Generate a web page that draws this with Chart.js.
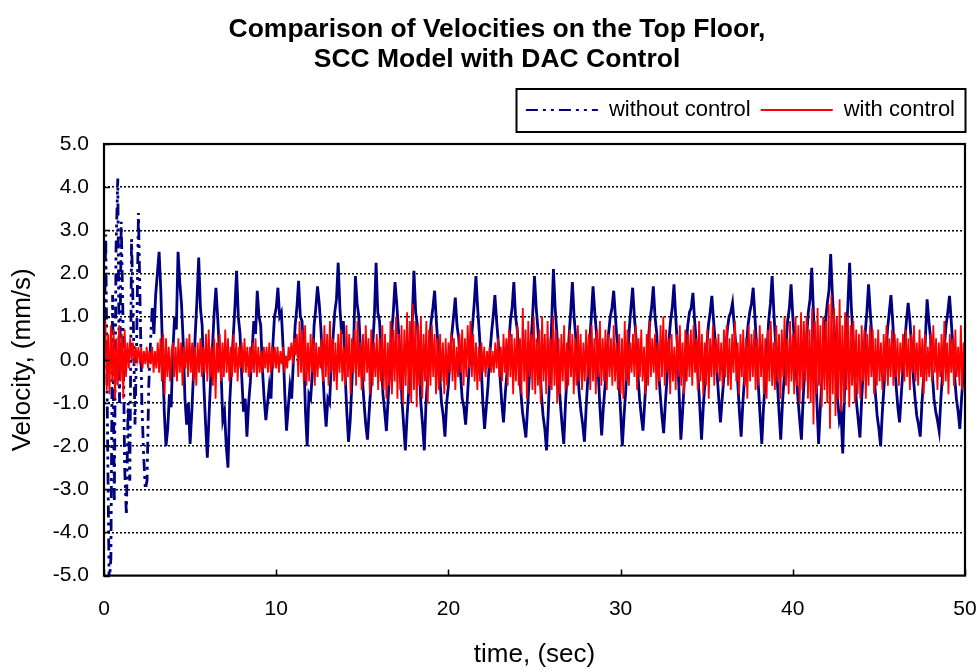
<!DOCTYPE html>
<html>
<head>
<meta charset="utf-8">
<title>Velocities on the Top Floor</title>
<script src="https://cdn.jsdelivr.net/npm/chart.js@4.4.1/dist/chart.umd.min.js"></script>
<style>
  html, body { margin: 0; padding: 0; background: #fff; }
</style>
</head>
<body>
<canvas id="velChart" width="979" height="670"></canvas>
<script>
// sample spacing (sec) of each record
const stepWithout = 0.1;
const stepWith = 0.08;

// velocity without control (mm/s), one row = 1 s
const withoutControl = [
  0.0, 2.9, -1.5, -5.2, -4.6, 1.5, -3.3, 2.6, 4.2, -1.0,
  3.2, 1.0, -2.5, -3.6, -1.0, -2.8, 2.8, 1.0, -1.5, 0.5,
  3.4, 1.2, -1.0, -2.2, -3.0, -2.8, -0.6, 0.4, 1.2, 0.6,
  1.5, 2.0, 2.5, 1.6, 0.2, -1.2, -2.0, -1.6, -0.8, -1.1,
  0.2, 1.0, 0.7, 2.5, 1.8, 1.3, 0.4, -0.9, -1.5, -1.0,
  -1.95, -1.2, -0.3, 0.6, 1.4, 2.37, 1.2, 0.8, -0.6, -1.5,
  -2.27, -1.3, -0.4, 0.3, 1.1, 1.67, 1.0, 0.2, -0.3, -1.4,
  -1.2, -2.0, -2.5, -1.0, -0.2, 0.5, 1.2, 2.06, 1.0, 0.6,
  -0.4, -1.2, -0.9, -1.78, -1.0, -0.5, 0.2, 0.9, 0.6, 1.6,
  1.0, 0.8, -0.2, -0.9, -1.4, -1.0, -0.6, -0.9, 0.3, 1.0,
  1.2, 1.67, 1.0, 1.1, 0.3, -0.8, -1.64, -1.1, -0.6, -0.9,
  0.0, 0.8, 1.2, 1.83, 1.0, 0.9, 0.1, -1.2, -2.0, -0.8,
  -0.9, -0.3, 0.8, 1.2, 1.7, 1.3, 0.7, -0.2, -1.0, -1.55,
  -0.9, -1.0, -0.1, 0.5, 1.1, 1.4, 2.25, 1.2, 0.6, 0.9,
  -0.3, -1.2, -1.9, -1.4, -0.5, 0.4, 1.94, 1.3, 1.0, 0.2,
  -0.4, -1.0, -1.5, -1.85, -1.2, -0.6, 0.3, 1.0, 2.25, 1.1,
  0.9, 0.1, -0.8, -1.2, -1.65, -0.9, -0.2, 0.6, 1.1, 1.8,
  1.3, 0.7, 0.0, -0.9, -1.5, -2.1, -1.3, -0.7, 0.2, 0.9,
  2.06, 1.1, 0.8, -0.1, -1.0, -1.5, -2.1, -1.0, -0.4, 0.4,
  0.9, 1.2, 1.6, 0.9, 0.3, -0.4, -1.0, -1.3, -1.78, -1.0,
  -0.6, 0.1, 0.6, 1.0, 1.44, 0.8, 0.5, -0.3, -0.9, -1.1,
  -1.5, -0.9, -0.2, 0.3, 0.8, 1.3, 1.94, 1.2, 0.6, -0.1,
  -1.0, -1.6, -1.1, -0.6, 0.1, 0.6, 1.0, 1.5, 0.9, 0.4,
  -0.4, -1.0, -1.45, -0.8, -0.3, 0.3, 0.9, 1.2, 1.8, 1.0,
  0.7, 0.0, -0.7, -1.2, -1.5, -1.8, -1.1, -0.4, 0.4, 1.1,
  1.94, 1.2, 0.7, 0.0, -0.8, -1.3, -1.6, -2.1, -1.2, -0.2,
  0.9, 2.1, 1.2, 0.6, -0.4, -1.0, -1.5, -1.95, -1.0, -0.3,
  0.5, 1.1, 1.8, 1.0, 0.5, -0.2, -0.8, -1.2, -1.5, -1.9,
  -1.1, -0.4, 0.4, 1.0, 1.7, 1.1, 0.6, -0.3, -1.1, -1.75,
  -1.1, -0.6, 0.1, 0.6, 1.0, 1.2, 1.6, 1.0, 0.4, -0.5,
  -1.2, -2.0, -1.3, -0.7, 0.0, 0.7, 1.2, 1.67, 1.0, 0.5,
  -0.3, -0.9, -1.3, -1.64, -1.0, -0.3, 0.4, 0.9, 1.2, 1.7,
  1.0, 0.6, -0.2, -0.8, -1.3, -1.7, -1.0, -0.4, 0.4, 0.9,
  1.2, 1.75, 1.0, 0.3, -0.8, -1.85, -1.2, -0.5, 0.2, 0.8,
  1.1, 1.2, 1.55, 0.9, 0.4, -0.4, -1.1, -1.85, -1.1, -0.5,
  0.3, 0.8, 1.1, 1.48, 0.9, 0.4, -0.3, -0.9, -1.45, -0.9,
  -0.4, 0.2, 0.7, 1.0, 1.1, 1.32, 0.8, 0.3, -0.5, -1.2,
  -1.78, -1.0, -0.4, 0.3, 0.8, 1.1, 1.3, 1.67, 1.0, 0.3,
  -0.6, -1.3, -1.95, -1.1, -0.5, 0.2, 0.9, 1.3, 1.94, 1.1,
  0.4, -0.5, -1.2, -1.85, -1.0, -0.4, 0.3, 0.9, 1.2, 1.75,
  1.0, 0.4, -0.3, -0.9, -1.4, -1.85, -0.9, -0.2, 0.5, 1.1,
  1.4, 2.13, 1.1, 0.2, -1.0, -1.95, -1.1, -0.4, 0.3, 0.9,
  1.3, 1.6, 2.45, 1.5, 0.8, -0.2, -0.9, -1.4, -1.2, -2.17,
  -0.8, 0.4, 1.3, 2.25, 1.2, 0.5, -0.4, -1.0, -1.4, -1.8,
  -0.9, -0.2, 0.6, 1.1, 1.75, 1.1, 0.5, -0.2, -0.8, -1.3,
  -1.6, -2.0, -1.2, -0.6, 0.1, 0.7, 1.1, 1.5, 0.9, 0.2,
  -0.6, -1.1, -1.45, -0.8, -0.2, 0.4, 0.9, 1.32, 0.9, 0.3,
  -0.4, -0.9, -1.3, -1.5, -1.78, -1.0, -0.4, 0.5, 1.4, 0.9,
  0.5, -0.3, -0.9, -1.2, -1.4, -1.65, -0.9, -0.3, 0.3, 0.8,
  1.1, 1.48, 0.9, 0.3, -0.4, -0.9, -1.2, -1.6, -0.9, -0.3,
  0.3
];

// velocity with control (mm/s), one row = 2 s
const withControl = [
  0.3, 0.9, -0.7, 0.6, -0.8, 0.8, -0.5, 0.7, -0.9, 0.5, -0.6, 0.8, -0.5, 0.6, -0.9, 0.7, -0.4, 0.4, -0.2, 0.5, 0.0, 0.4, -0.1, 0.3, 0.0,
  0.3, -0.1, 0.3, -0.2, 0.2, -0.1, 0.3, -0.2, 0.2, -0.1, 0.3, -0.3, 0.2, -0.2, 0.4, -0.3, 0.5, -0.5, 0.6, -0.8, 0.5, -0.4, 0.3, -0.5, 0.2,
  0.4, -0.4, 0.3, -0.5, 0.5, -0.3, 0.4, -0.6, 0.3, -0.2, 0.5, -0.4, 0.6, -0.3, 0.4, -0.5, 0.3, -0.6, 0.4, -0.3, 0.5, -0.4, 0.3, -0.3, 0.6,
  -0.5, 0.7, -0.4, 0.3, -0.6, 0.5, -0.9, 0.4, -0.3, 0.6, -0.5, 0.4, -0.4, 0.7, -0.3, 0.5, -0.5, 0.3, -0.4, 0.6, -0.3, 0.4, -0.5, 0.3, -0.2,
  0.4, -0.3, 0.5, -0.3, 0.3, -0.4, 0.3, -0.3, 0.4, -0.3, 0.5, -0.4, 0.3, -0.3, 0.2, -0.3, 0.3, -0.2, 0.3, -0.3, 0.4, -0.3, 0.3, -0.2, 0.3,
  -0.2, 0.3, -0.3, 0.2, -0.1, 0.3, -0.3, 0.1, -0.2, 0.3, 0.0, 0.4, -0.1, 0.5, 0.1, 0.6, -0.4, 0.9, -0.3, 0.7, -0.5, 0.8, -0.6, 0.4, -0.5,
  0.6, -0.3, 0.5, -0.6, 0.4, -0.4, 0.3, -0.2, 0.5, -0.5, 0.8, -0.4, 0.6, -0.6, 0.9, -0.3, 0.5, -0.5, 0.4, -0.7, 0.6, -0.3, 0.7, -0.5, 0.3,
  -0.6, 0.8, -0.4, 0.6, -0.8, 0.5, -0.3, 0.7, -0.6, 0.9, -0.4, 0.4, -0.7, 0.6, -0.5, 0.8, -0.3, 0.5, -0.8, 0.7, -0.6, 0.4, -0.4, 0.6, -0.7,
  0.5, -0.5, 0.8, -0.7, 0.6, -0.9, 0.4, -0.6, 0.9, -0.8, 0.7, -0.5, 1.0, -0.9, 0.6, -0.7, 0.8, -1.0, 0.7, -0.6, 1.1, -0.8, 0.9, -1.0, 1.3,
  -0.7, 0.9, -1.1, 0.8, -0.6, 1.0, -0.9, 0.6, -0.5, 0.9, -1.0, 0.7, -0.6, 0.8, -0.4, 0.6, -0.8, 0.5, -0.7, 0.6, -0.5, 0.4, -0.8, 0.5, -0.6,
  0.4, -0.3, 0.6, -0.5, 0.5, -0.7, 0.3, -0.4, 0.6, -0.3, 0.7, -0.6, 0.5, -0.4, 0.8, -0.2, 0.9, -0.4, 0.6, -0.5, 0.4, -0.7, 0.3, -0.5, 0.4,
  -0.3, 0.3, -0.4, 0.2, -0.2, 0.3, -0.3, 0.2, -0.3, 0.4, -0.2, 0.5, -0.4, 0.3, -0.5, 0.6, -0.3, 0.5, -0.6, 0.7, -0.4, 0.6, -0.8, 0.5, -0.5,
  0.8, -0.6, 0.5, -0.8, 1.2, -0.5, 0.7, -0.9, 0.9, -0.4, 0.6, -0.7, 1.0, -0.8, 0.5, -0.6, 0.7, -1.0, 1.0, -0.5, 0.6, -0.8, 0.9, -0.6, 0.5,
  -0.7, 1.0, -0.6, 0.7, -1.0, 0.5, -0.8, 0.6, -0.5, 0.8, -0.7, 0.4, -0.6, 0.7, -0.4, 0.6, -0.8, 0.5, -0.6, 0.8, -0.5, 0.6, -0.7, 0.4, -0.5,
  0.7, -0.4, 0.6, -0.7, 0.8, -0.5, 0.5, -0.8, 0.7, -0.4, 0.9, -0.6, 0.5, -0.5, 0.7, -0.7, 0.6, -0.4, 0.5, -0.6, 0.8, -0.5, 0.4, -0.7, 0.6,
  -0.8, 0.5, -0.9, 0.9, -0.5, 0.7, -0.6, 0.4, -0.3, 0.6, -0.4, 0.8, -0.7, 0.5, -0.4, 0.7, -0.5, 0.3, -0.8, 0.6, -0.6, 0.9, -0.4, 0.5, -0.3,
  0.6, -0.7, 0.4, -0.5, 0.8, -0.4, 1.0, -0.6, 0.7, -0.3, 0.5, -0.8, 0.6, -0.5, 0.3, -0.7, 0.6, -0.4, 0.8, -0.6, 0.4, -0.8, 0.7, -0.5, 0.6,
  -0.4, 0.7, -0.6, 0.8, -0.3, 0.5, -0.7, 0.9, -0.5, 0.6, -0.8, 0.4, -0.6, 0.7, -0.9, 0.5, -0.4, 0.8, -0.6, 0.5, -0.3, 0.6, -0.5, 0.4, -0.6,
  0.7, -0.4, 0.8, -0.6, 0.5, -0.7, 0.6, -0.3, 0.9, -0.5, 0.4, -0.8, 0.6, -0.4, 0.7, -0.6, 0.5, -0.9, 0.8, -0.5, 0.6, -0.4, 0.7, -0.7, 0.5,
  -0.6, 0.8, -0.4, 0.6, -0.8, 0.5, -0.9, 0.7, -0.5, 0.9, -0.6, 0.4, -0.7, 0.8, -0.5, 0.6, -0.9, 0.7, -0.4, 1.0, -0.6, 0.5, -0.8, 0.9, -0.5,
  0.6, -0.8, 1.0, -0.6, 0.8, -1.0, 1.1, -0.7, 0.9, -0.5, 1.0, -0.9, 0.7, -1.0, 1.2, -1.5, 0.9, -0.8, 1.2, -0.6, 0.8, -1.1, 1.0, -0.7, 0.9,
  -1.0, 1.3, -1.6, 1.5, -0.8, 1.2, -1.3, 1.0, -0.9, 1.4, -1.2, 0.8, -1.0, 1.1, -0.7, 1.0, -1.1, 0.8, -0.6, 0.9, -1.0, 0.7, -0.8, 0.6, -0.9,
  0.8, -0.5, 0.7, -0.9, 0.6, -0.6, 0.8, -0.4, 0.7, -0.8, 0.5, -0.6, 0.7, -0.5, 0.4, -0.7, 0.6, -0.5, 0.8, -0.6, 0.5, -0.4, 0.7, -0.6, 0.6,
  -0.4, 0.5, -0.6, 0.4, -0.3, 0.6, -0.5, 0.7, -0.4, 0.5, -0.7, 0.6, -0.3, 0.8, -0.5, 0.4, -0.6, 0.7, -0.4, 0.5, -0.8, 0.6, -0.5, 0.3, -0.4,
  0.6, -0.5, 0.8, -0.3, 0.5, -0.7, 0.4, -0.4, 0.6, -0.6, 0.9, -0.5, 0.4, -0.8, 0.6, -0.3, 0.5, -0.6, 0.7, -0.4, 0.3, -0.6, 0.8, -0.7, 0.4,
  0.2
];

const timeTicks = [0, 10, 20, 30, 40, 50];
const velTicks = [-5, -4, -3, -2, -1, 0, 1, 2, 3, 4, 5];

function toPoints(values, step) {
  return values.map((v, i) => ({ x: Math.round(i * step * 1000) / 1000, y: v }));
}

Chart.defaults.font.family = "'Liberation Sans', Arial, sans-serif";
Chart.defaults.color = '#000';

// frame round the plot, inward tick marks and the legend border
const framePlugin = {
  id: 'frame',
  afterDraw(chart) {
    const ctx = chart.ctx;
    const a = chart.chartArea;
    const xs = chart.scales.x, ys = chart.scales.y;
    ctx.save();
    ctx.strokeStyle = '#000';
    ctx.lineWidth = 1.5;
    ctx.beginPath();
    timeTicks.forEach(t => {
      const px = Math.round(xs.getPixelForValue(t)) + 0.5;
      ctx.moveTo(px, a.bottom); ctx.lineTo(px, a.bottom - 6);
    });
    velTicks.forEach(v => {
      const py = Math.round(ys.getPixelForValue(v)) + 0.5;
      ctx.moveTo(a.left, py); ctx.lineTo(a.left + 6, py);
    });
    ctx.stroke();
    ctx.lineWidth = 2.2;
    ctx.strokeRect(a.left, a.top, a.right - a.left, a.bottom - a.top);

    const hb = chart.legend.legendHitBoxes;
    if (hb && hb.length) {
      const x0 = hb[0].left - 10;
      const x1 = a.right;
      const cy = hb[0].top + hb[0].height / 2;
      ctx.lineWidth = 2;
      ctx.strokeRect(Math.round(x0) + 0.5, Math.round(cy - 21.5), Math.round(x1 - x0), 43);
    }
    ctx.restore();
  }
};

new Chart(document.getElementById('velChart'), {
  type: 'line',
  data: {
    datasets: [
      {
        label: 'without control',
        data: toPoints(withoutControl, stepWithout),
        borderColor: '#000080',
        borderWidth: 2.8,
        borderDash: [12, 5, 3, 5, 3, 5],
        pointRadius: 0,
        tension: 0,
        order: 1,
        segment: {
          borderDash: c => (c.p0.parsed.x < 2.8 ? undefined : [])
        }
      },
      {
        label: 'with control',
        data: toPoints(withControl, stepWith),
        borderColor: '#ff0000',
        borderWidth: 1.8,
        pointRadius: 0,
        tension: 0,
        order: 0
      }
    ]
  },
  options: {
    responsive: false,
    animation: false,
    devicePixelRatio: 1,
    layout: { padding: { left: 29, right: 14, top: 0, bottom: 0 } },
    plugins: {
      tooltip: { enabled: false },
      title: {
        display: true,
        text: ['Comparison of Velocities on the Top Floor,', 'SCC Model with DAC Control'],
        font: { size: 26.5, weight: 'bold', lineHeight: 30 / 26.5 },
        color: '#000',
        padding: { top: 15, bottom: 14 }
      },
      subtitle: {
        display: true,
        text: '',
        weight: 500,
        font: { size: 1, lineHeight: 1 },
        padding: { top: 6, bottom: 6 }
      },
      legend: {
        position: 'top',
        align: 'end',
        labels: {
          font: { size: 22 },
          color: '#000',
          usePointStyle: true,
          pointStyleWidth: 72,
          padding: 10,
          generateLabels: chart => chart.data.datasets.map((ds, i) => ({
            text: ds.label,
            fillStyle: ds.borderColor,
            strokeStyle: ds.borderColor,
            lineWidth: 2,
            lineDash: ds.borderDash || [],
            pointStyle: 'line',
            hidden: false,
            datasetIndex: i,
            fontColor: '#000'
          }))
        }
      }
    },
    scales: {
      x: {
        type: 'linear',
        min: 0,
        max: 50,
        grid: { display: false, drawTicks: false },
        border: { display: false },
        afterBuildTicks: s => { s.ticks = timeTicks.map(v => ({ value: v })); },
        afterFit: s => { s.paddingLeft = 0; s.paddingRight = 0; },
        ticks: { font: { size: 21 }, color: '#000', padding: 21, maxRotation: 0 },
        title: { display: true, text: 'time, (sec)', font: { size: 26 }, color: '#000', padding: { top: -4, bottom: 0 } }
      },
      y: {
        min: -5,
        max: 5,
        afterBuildTicks: s => { s.ticks = velTicks.map(v => ({ value: v })); },
        afterFit: s => { s.width = 75; },
        grid: {
          drawTicks: false,
          lineWidth: 1.5,
          color: c => (c.tick && Math.abs(c.tick.value) === 5 ? 'rgba(0,0,0,0)' : '#000')
        },
        border: { display: false, dash: [2, 2] },
        ticks: { font: { size: 21 }, color: '#000', padding: 15, callback: v => v.toFixed(1) },
        title: { display: true, text: 'Velocity, (mm/s)', font: { size: 26 }, color: '#000', padding: { top: -22, bottom: 0 } }
      }
    }
  },
  plugins: [framePlugin]
});
</script>
</body>
</html>
